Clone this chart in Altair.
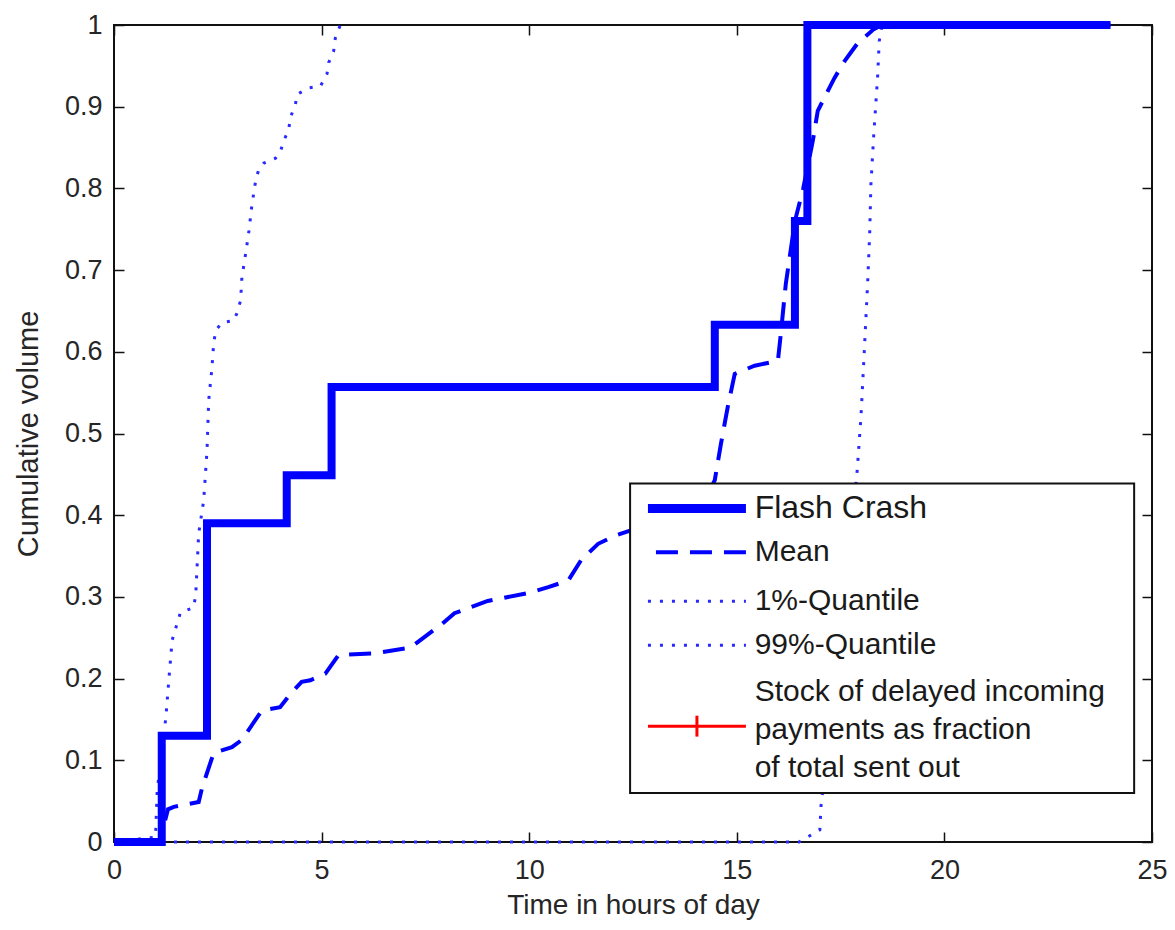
import altair as alt
import pandas as pd

# ---------------- data ----------------
flash_t = [0, 1.15, 2.24, 4.16, 5.24, 14.47, 16.4, 16.7, 24.0]
flash_v = [0, 0.13, 0.39, 0.449, 0.557, 0.633, 0.76, 1.0, 1.0]

mean_t = [0, 1.1, 1.3, 1.44, 2.04, 2.12, 2.4, 2.84, 3.08, 3.56, 4.0, 4.26, 4.52, 4.73,
          5.09, 5.41, 6.3, 7.14, 7.9, 8.2, 9.0, 10.0, 10.46, 10.94, 11.25, 11.66, 12.07,
          12.43, 13.0, 13.5, 14.0, 14.3, 14.47, 14.62, 14.78, 14.95, 15.43, 15.99, 16.06,
          16.18, 16.4, 16.6, 16.83, 16.95, 17.19, 17.35, 17.6, 17.9, 18.3, 18.5, 24.0]
mean_v = [0, 0, 0.04, 0.043, 0.049, 0.066, 0.109, 0.116, 0.125, 0.161, 0.165, 0.182, 0.196,
          0.198, 0.206, 0.229, 0.231, 0.238, 0.267, 0.28, 0.295, 0.305, 0.312, 0.32, 0.345,
          0.365, 0.375, 0.381, 0.39, 0.40, 0.41, 0.425, 0.443, 0.488, 0.532, 0.573, 0.583,
          0.589, 0.622, 0.683, 0.76, 0.80, 0.858, 0.895, 0.919, 0.935, 0.956, 0.977, 0.995,
          1.0, 1.0]

q99_t = [0, 1.0, 1.04, 1.25, 1.32, 1.4, 1.6, 1.92, 1.97, 2.04, 2.16, 2.24, 2.28, 2.36, 2.4,
         2.45, 2.6, 2.88, 2.96, 3.05, 3.08, 3.17, 3.25, 3.32, 3.41, 3.49, 3.61, 3.89, 4.0,
         4.09, 4.21, 4.25, 4.37, 4.41, 4.69, 4.97, 5.13, 5.17, 5.29, 5.33, 5.45]
q99_v = [0, 0.006, 0.063, 0.153, 0.198, 0.247, 0.281, 0.287, 0.304, 0.378, 0.418, 0.479,
         0.54, 0.581, 0.61, 0.626, 0.636, 0.638, 0.647, 0.663, 0.691, 0.72, 0.748, 0.779,
         0.809, 0.824, 0.831, 0.837, 0.844, 0.858, 0.873, 0.887, 0.903, 0.915, 0.923, 0.925,
         0.94, 0.954, 0.968, 0.984, 1.0]

q01_t = [0, 16.5, 16.7, 17.0, 17.03, 17.2, 17.5, 17.75, 17.9, 17.99, 18.07, 18.15, 18.2,
         18.23, 18.3, 18.39, 18.43, 18.5, 24.0]
q01_v = [0, 0, 0.006, 0.015, 0.045, 0.12, 0.25, 0.37, 0.455, 0.52, 0.6, 0.683, 0.744,
         0.805, 0.867, 0.935, 0.98, 1.0, 1.0]

series_names = ["Flash Crash", "Mean", "1%-Quantile", "99%-Quantile",
                "Stock of delayed incoming\npayments as fraction\nof total sent out"]

x_ticks = [0, 5, 10, 15, 20, 25]
y_ticks = [0, 0.1, 0.2, 0.3, 0.4, 0.5, 0.6, 0.7, 0.8, 0.9, 1]

# ---------------- tables ----------------
rows = []
for name, ts, vs in [("Flash Crash", flash_t, flash_v), ("Mean", mean_t, mean_v),
                     ("99%-Quantile", q99_t, q99_v), ("1%-Quantile", q01_t, q01_v)]:
    for i, (t, v) in enumerate(zip(ts, vs)):
        rows.append({"series": name, "t": t, "v": v, "i": i})
df = pd.DataFrame(rows)

# legend layout (in data units of the axes)
LEG = {"x0": 12.43, "x1": 24.57, "y0": 0.0599, "y1": 0.4389,
       "sx0": 12.86, "sx1": 15.22, "tx": 15.43}
leg_y = [0.4083, 0.3545, 0.2946, 0.2408, 0.1834]
leg_line_y = [0.4083, 0.3545, 0.2946, 0.2408, 0.1418]
leg_size = [32, 30, 30, 30, 30]

FONT = "Liberation Sans"
BLUE = "#0000ff"
DOT = "#2a2aff"

xs = alt.Scale(domain=[0, 25], nice=False, zero=False)
ys = alt.Scale(domain=[0, 1], nice=False, zero=False)

ax_bottom = alt.Axis(orient="bottom", values=x_ticks, format="d", offset=-10, tickSize=10,
                     labelPadding=15, labelFlush=False, labelOverlap=False,
                     title="Time in hours of day", titlePadding=8)
ax_left = alt.Axis(orient="left", values=y_ticks, format="~g", offset=-10, tickSize=10,
                   labelPadding=12, labelOverlap=False, title="Cumulative volume",
                   titlePadding=21, titleFontSize=29)
ax_top = alt.Axis(orient="top", values=x_ticks, labels=False, offset=-10, tickSize=10,
                  title=None)
ax_right = alt.Axis(orient="right", values=y_ticks, labels=False, offset=-10, tickSize=10,
                    title=None)

base = alt.Chart(df)

flash = base.transform_filter(alt.datum.series == "Flash Crash").mark_line(
    interpolate="step-after", color=BLUE, strokeWidth=8, strokeJoin="miter", strokeCap="butt"
).encode(x=alt.X("t:Q", scale=xs, axis=ax_bottom),
         y=alt.Y("v:Q", scale=ys, axis=ax_left), order="i:Q")

mean = base.transform_filter(alt.datum.series == "Mean").mark_line(
    color=BLUE, strokeWidth=4, strokeDash=[22, 12]
).encode(x=alt.X("t:Q", scale=xs, axis=None), y=alt.Y("v:Q", scale=ys, axis=None), order="i:Q")

q99 = base.transform_filter(alt.datum.series == "99%-Quantile").mark_line(
    color=DOT, strokeWidth=3, strokeDash=[3, 9]
).encode(x=alt.X("t:Q", scale=xs, axis=None), y=alt.Y("v:Q", scale=ys, axis=None), order="i:Q")

q01 = base.transform_filter(alt.datum.series == "1%-Quantile").mark_line(
    color=DOT, strokeWidth=3, strokeDash=[3, 9]
).encode(x=alt.X("t:Q", scale=xs, axis=ax_top), y=alt.Y("v:Q", scale=ys, axis=ax_right),
         order="i:Q")

# ---------------- legend ----------------
box_df = pd.DataFrame([{"x0": LEG["x0"], "x1": LEG["x1"], "y0": LEG["y0"], "y1": LEG["y1"]}])
box = alt.Chart(box_df).mark_rect(fill="white", stroke="#111111", strokeWidth=2).encode(
    x=alt.X("x0:Q", scale=xs, axis=None), x2="x1:Q",
    y=alt.Y("y0:Q", scale=ys, axis=None), y2="y1:Q")

def leg_line(idx, **style):
    d = pd.DataFrame([{"a": LEG["sx0"], "b": LEG["sx1"], "y": leg_line_y[idx]}])
    return alt.Chart(d).mark_rule(**style).encode(
        x=alt.X("a:Q", scale=xs, axis=None), x2="b:Q",
        y=alt.Y("y:Q", scale=ys, axis=None))

l_flash = leg_line(0, color=BLUE, strokeWidth=9, strokeCap="butt")
l_mean = leg_line(1, color=BLUE, strokeWidth=4, strokeDash=[22, 12], strokeDashOffset=-8)
l_q01 = leg_line(2, color=DOT, strokeWidth=3, strokeDash=[3, 9])
l_q99 = leg_line(3, color=DOT, strokeWidth=3, strokeDash=[3, 9])
l_stock = leg_line(4, color="#ff0000", strokeWidth=3)

mid = (LEG["sx0"] + LEG["sx1"]) / 2
cross_df = pd.DataFrame([{"x": mid, "ya": leg_line_y[4] - 0.0128, "yb": leg_line_y[4] + 0.0128}])
cross = alt.Chart(cross_df).mark_rule(color="#ff0000", strokeWidth=3).encode(
    x=alt.X("x:Q", scale=xs, axis=None), y=alt.Y("ya:Q", scale=ys, axis=None), y2="yb:Q")

txt_df = pd.DataFrame({"label": series_names, "y": leg_y, "size": leg_size,
                       "x": [LEG["tx"]] * 5})
texts = alt.Chart(txt_df).mark_text(
    align="left", baseline="middle", font=FONT, color="#1a1a1a", lineBreak="\n", lineHeight=38
).encode(x=alt.X("x:Q", scale=xs, axis=None), y=alt.Y("y:Q", scale=ys, axis=None),
         text="label:N", size=alt.Size("size:Q", scale=None))

chart = alt.layer(
    q99, q01, mean, flash, box, l_flash, l_mean, l_q01, l_q99, l_stock, cross, texts
).resolve_axis(x="independent", y="independent").properties(
    width=1038, height=817,
    autosize=alt.AutoSizeParams(type="none"),
    padding={"left": 106, "top": 17, "right": 15, "bottom": 79},
).configure_view(stroke="#111111", strokeWidth=2).configure_axis(
    domain=False, grid=False, tickColor="#111111", tickWidth=1.5,
    labelFont=FONT, labelFontSize=27, labelColor="#262626",
    titleFont=FONT, titleFontSize=28, titleColor="#262626", titleFontWeight="normal",
)

chart.save("out.html", embed_options={"renderer": "svg", "actions": False})
